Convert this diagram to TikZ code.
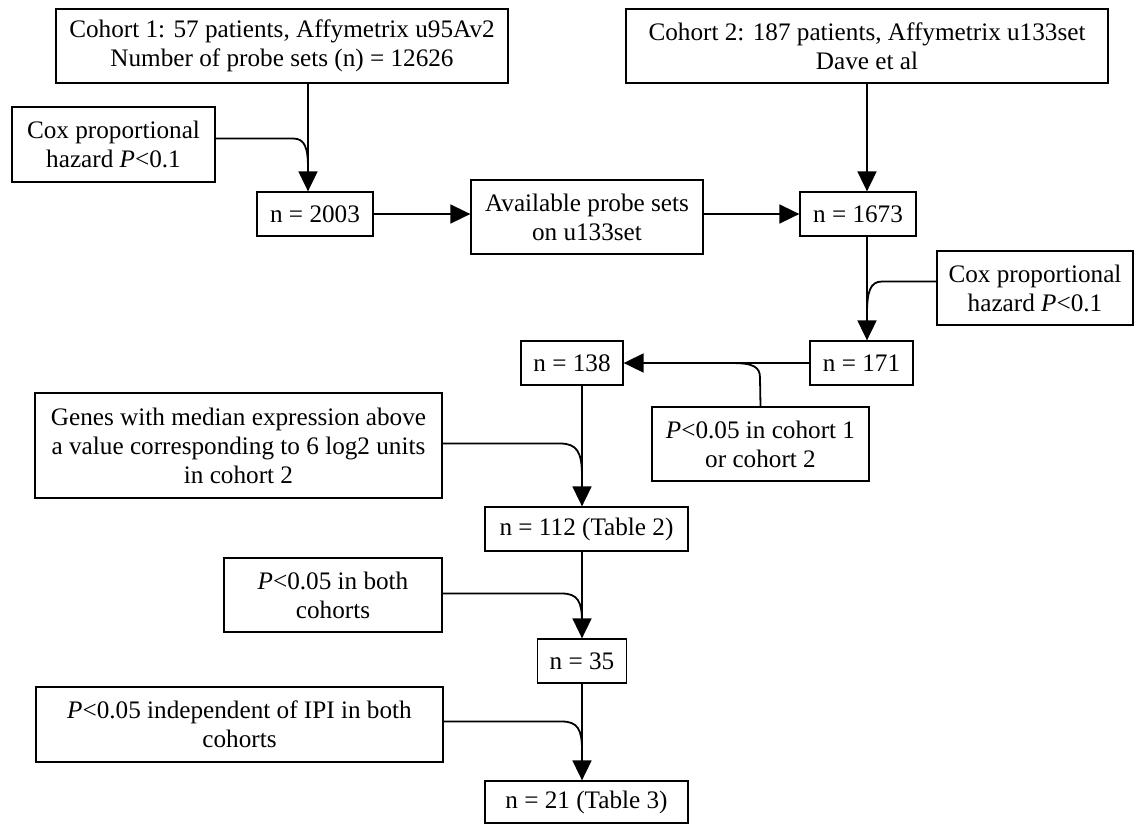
\documentclass[tikz,border=0pt]{standalone}
\usepackage{fontspec}
\setmainfont{Liberation Serif}
\usetikzlibrary{arrows.meta,calc}
\begin{document}
\begin{tikzpicture}[x=1pt,y=-1pt,
  box/.style={draw, line width=1.3pt, inner sep=0pt, align=center, font=\fontsize{25.2}{29}\selectfont},
  conn/.style={line width=1.8pt},
  arr/.style={conn, -{Triangle[length=20pt,width=19pt]}}]
\useasboundingbox (0,0) rectangle (1135,823);
% nodes
\node[box, minimum width=452pt, minimum height=74pt] (c1) at (282,46) {Cohort 1: 57 patients, Affymetrix u95Av2\\Number of probe sets (n) = 12626};
\node[box, minimum width=482pt, minimum height=74pt] (c2) at (867,46) {Cohort 2: 187 patients, Affymetrix u133set\\Dave et al};
\node[box, minimum width=203pt, minimum height=75pt] (cox1) at (113.5,144.5) {Cox proportional\\hazard \textit{P}<0.1};
\node[box, minimum width=116pt, minimum height=44pt] (n2003) at (315,214) {n = 2003};
\node[box, minimum width=232pt, minimum height=74pt] (avail) at (587,217) {Available probe sets\\on u133set};
\node[box, minimum width=116pt, minimum height=44pt] (n1673) at (858,214) {n = 1673};
\node[box, minimum width=196pt, minimum height=74pt] (cox2) at (1035,288) {Cox proportional\\hazard \textit{P}<0.1};
\node[box, minimum width=103pt, minimum height=44pt] (n171) at (861.5,363) {n = 171};
\node[box, minimum width=102pt, minimum height=44pt] (n138) at (572,363) {n = 138};
\node[box, minimum width=217pt, minimum height=74pt] (pcoh) at (760.5,444) {\textit{P}<0.05 in cohort 1\\or cohort 2};
\node[box, minimum width=407pt, minimum height=105pt] (genes) at (238.5,445.5) {Genes with median expression above\\a value corresponding to 6 log2 units\\in cohort 2};
\node[box, minimum width=203pt, minimum height=44pt] (n112) at (586.5,529) {n = 112 (Table 2)};
\node[box, minimum width=218pt, minimum height=74pt] (pboth) at (333,595) {\textit{P}<0.05 in both\\cohorts};
\node[box, minimum width=89pt, minimum height=44pt] (n35) at (582,661) {n = 35};
\node[box, minimum width=407pt, minimum height=75pt] (ipi) at (239.5,724.5) {\textit{P}<0.05 independent of IPI in both\\cohorts};
\node[box, minimum width=203pt, minimum height=42pt] (n21) at (586.5,802) {n = 21 (Table 3)};
% reference columns
\coordinate (a1) at (308,0);
\coordinate (col) at (582,0);
\coordinate (b1) at (867,0);
% main flow
\draw[arr] (a1 |- c1.south) -- (a1 |- n2003.north);
\draw[arr] (n2003.east) -- (n2003.east -| avail.west);
\draw[arr] (n1673.west -| avail.east) -- (n1673.west);
\draw[arr] (b1 |- c2.south) -- (b1 |- n1673.north);
\draw[arr] (b1 |- n1673.south) -- (b1 |- n171.north);
\draw[arr] (n171.west) -- (n138.east);
\draw[arr] (col |- n138.south) -- (col |- n112.north);
\draw[arr] (col |- n112.south) -- (col |- n35.north);
\draw[arr] (col |- n35.south) -- (col |- n21.north);
% side inputs
\draw[conn] (cox1.east |- 0,138.5) -- (293,138.5) .. controls (305,138.5) and (308,148) .. (308,168);
\draw[conn] (cox2.west |- 0,281.5) -- (882,281.5) .. controls (870,281.5) and (867,292) .. (867,314);
\draw[conn] (pcoh.north) -- (760,378) .. controls (760,367) and (754,363) .. (731,363);
\draw[conn] (genes.east |- 0,443.5) -- (560,443.5) .. controls (577,443.5) and (582,452) .. (582,476);
\draw[conn] (pboth.east |- 0,593.5) -- (562,593.5) .. controls (578,593.5) and (582,602) .. (582,622);
\draw[conn] (ipi.east |- 0,721.5) -- (562,721.5) .. controls (578,721.5) and (582,730) .. (582,750);
\end{tikzpicture}
\end{document}
